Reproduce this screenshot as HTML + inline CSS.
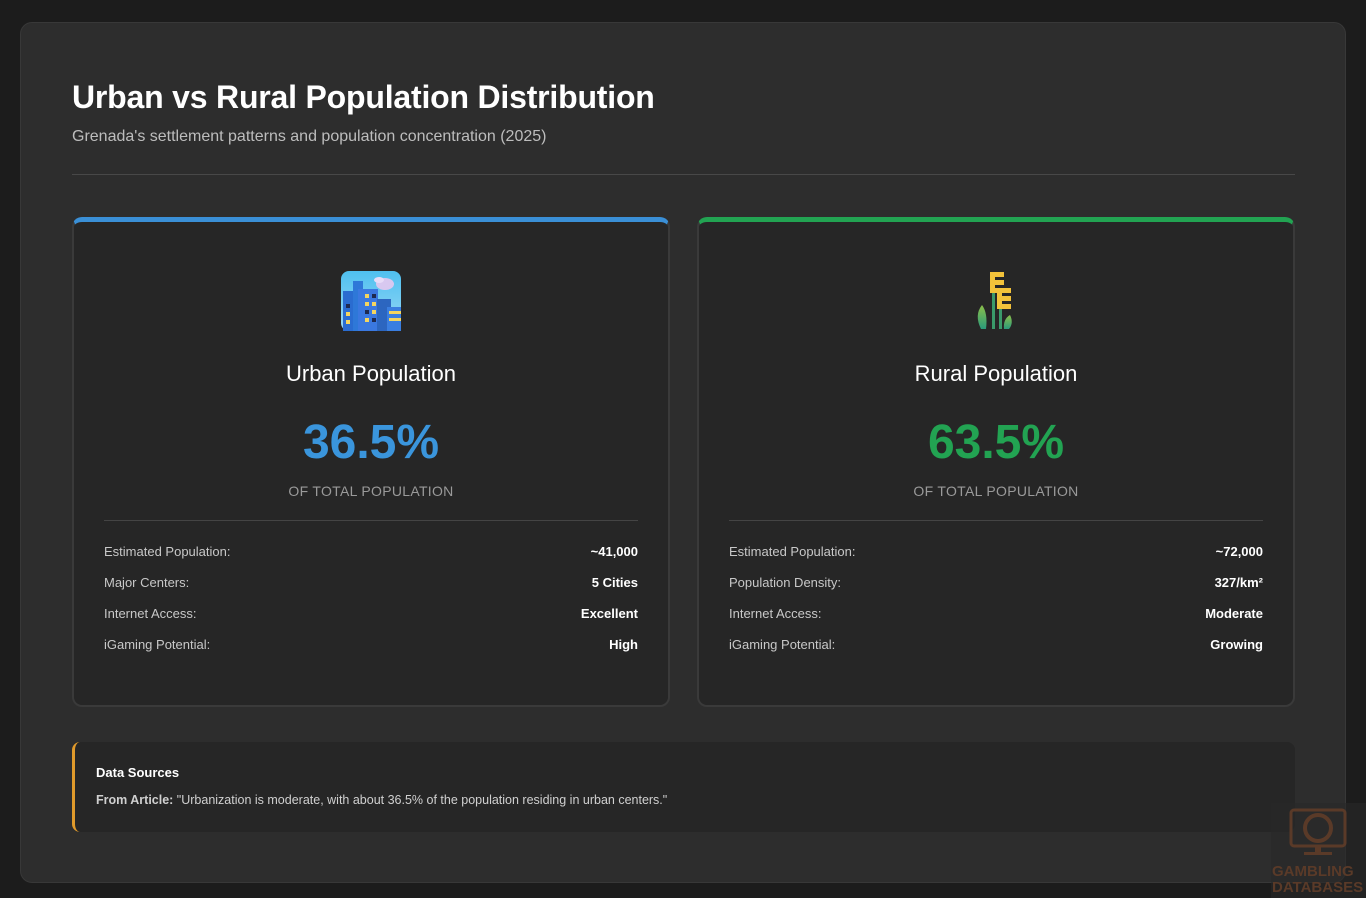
<!DOCTYPE html>
<html><head><meta charset="utf-8"><style>
*{box-sizing:border-box;margin:0;padding:0}
body{width:1366px;height:898px;background:#1c1c1c;font-family:"Liberation Sans","DejaVu Sans",sans-serif;position:relative;overflow:hidden;color:#fff}
.wrap{position:absolute;left:20px;top:22px;width:1326px;height:861px;background:#2d2d2d;border:1px solid #383838;border-radius:12px}
h1{position:absolute;left:51px;top:56px;font-size:32px;font-weight:bold;color:#fff;letter-spacing:-0.2px}
.sub{position:absolute;left:51px;top:105px;font-size:16px;color:#bdbdbd}
.hr{position:absolute;left:51px;top:151px;width:1223px;height:1px;background:#484848}
.card{position:absolute;top:194px;width:598px;height:490px;background:#262626;border:2px solid #3a3a3a;border-top:5px solid;border-radius:10px}
.card .icon{position:absolute;left:267px;top:49px;width:60px;height:60px}
.card h2{position:absolute;left:0;right:0;top:139px;text-align:center;font-size:22px;font-weight:normal;color:#fff}
.card .pct{position:absolute;left:0;right:0;top:193px;text-align:center;font-size:48px;font-weight:bold}
.card .lbl{position:absolute;left:0;right:0;top:261px;text-align:center;font-size:14px;color:#9a9a9a;letter-spacing:0.3px}
.card .div{position:absolute;left:30px;right:30px;top:298px;height:1px;background:#444}
.rows{position:absolute;left:30px;right:30px;top:322px}
.row{display:flex;justify-content:space-between;height:31px;font-size:13px;color:#c8c8c8}
.row b{color:#fff}
.src{position:absolute;left:51px;top:719px;width:1223px;height:90px;background:#262626;border-left:3px solid #e09a2b;border-radius:8px}
.src .t{position:absolute;left:21px;top:23px;font-size:13px;font-weight:bold;color:#fff}
.src .q{position:absolute;left:21px;top:51px;font-size:12.5px;color:#d0d0d0}
.src .q b{color:#d0d0d0}
</style></head><body>
<div class="wrap">
<h1>Urban vs Rural Population Distribution</h1>
<div class="sub">Grenada's settlement patterns and population concentration (2025)</div>
<div class="hr"></div>
<div class="card" style="left:51px;border-top-color:#3a8fd6">
<svg class="icon" viewBox="0 0 60 60"><defs><linearGradient id="sk" x1="0" y1="0" x2="0" y2="1"><stop offset="0" stop-color="#4fc0f0"/><stop offset="1" stop-color="#9ad8f5"/></linearGradient></defs>
<rect width="60" height="60" rx="8" fill="url(#sk)"/><ellipse cx="44" cy="13" rx="9" ry="6" fill="#d8c8f0"/><ellipse cx="38" cy="9" rx="5" ry="3" fill="#e8dcf8"/>
<rect x="2" y="20" width="14" height="40" fill="#2a6cd0"/><rect x="12" y="10" width="10" height="50" fill="#2e78d8"/><rect x="17" y="18" width="20" height="42" fill="#3a78e0"/><rect x="36" y="28" width="14" height="32" fill="#2c66c0"/><rect x="46" y="36" width="14" height="24" fill="#3a7ee0"/>
<g fill="#f4d560"><rect x="24" y="23" width="4" height="4"/><rect x="24" y="31" width="4" height="4"/><rect x="31" y="31" width="4" height="4"/><rect x="31" y="39" width="4" height="4"/><rect x="24" y="47" width="4" height="4"/><rect x="5" y="41" width="4" height="4"/><rect x="5" y="49" width="4" height="4"/><rect x="48" y="40" width="12" height="3"/><rect x="48" y="47" width="12" height="3"/></g>
<g fill="#1e2a50"><rect x="31" y="23" width="4" height="4"/><rect x="24" y="39" width="4" height="4"/><rect x="31" y="47" width="4" height="4"/><rect x="5" y="33" width="4" height="4"/></g></svg>
<h2>Urban Population</h2>
<div class="pct" style="color:#3a95dc">36.5%</div>
<div class="lbl">OF TOTAL POPULATION</div>
<div class="div"></div>
<div class="rows">
<div class="row"><span>Estimated Population:</span><b>~41,000</b></div>
<div class="row"><span>Major Centers:</span><b>5 Cities</b></div>
<div class="row"><span>Internet Access:</span><b>Excellent</b></div>
<div class="row"><span>iGaming Potential:</span><b>High</b></div>
</div></div>
<div class="card" style="left:676px;border-top-color:#22a352">
<svg class="icon" viewBox="0 0 60 60"><defs><linearGradient id="lf" x1="0" y1="0" x2="0" y2="1"><stop offset="0" stop-color="#8cc04a"/><stop offset="1" stop-color="#2a9a7a"/></linearGradient></defs>
<path d="M16 34 Q8 44 15 58 L20 58 Q22 42 16 34Z" fill="url(#lf)"/><path d="M44 44 Q48 52 43 58 L38 58 Q37 48 44 44Z" fill="url(#lf)"/>
<rect x="26" y="18" width="3" height="40" fill="#3a9a6a"/><rect x="33" y="34" width="3" height="24" fill="#3a9a6a"/>
<g fill="#f2c23a"><path d="M24 1h14v5H29v3h9v5H29v3h9v5H24z"/><path d="M31 17h14v5H36v3h9v5H36v3h9v5H31z"/></g></svg>
<h2>Rural Population</h2>
<div class="pct" style="color:#22a352">63.5%</div>
<div class="lbl">OF TOTAL POPULATION</div>
<div class="div"></div>
<div class="rows">
<div class="row"><span>Estimated Population:</span><b>~72,000</b></div>
<div class="row"><span>Population Density:</span><b>327/km²</b></div>
<div class="row"><span>Internet Access:</span><b>Moderate</b></div>
<div class="row"><span>iGaming Potential:</span><b>Growing</b></div>
</div></div>
<div class="src"><div class="t">Data Sources</div><div class="q"><b>From Article:</b> "Urbanization is moderate, with about 36.5% of the population residing in urban centers."</div></div>
</div>
<div style="position:absolute;left:1271px;top:803px;width:95px;height:95px;background:rgba(40,40,40,0.6)"></div>
<svg style="position:absolute;left:1288px;top:808px" width="60" height="52" viewBox="0 0 60 52"><rect x="3" y="2" width="54" height="36" rx="3" fill="none" stroke="#5a3a28" stroke-width="3"/><circle cx="30" cy="20" r="13" fill="none" stroke="#5a3a28" stroke-width="4"/><rect x="27" y="38" width="6" height="6" fill="#5a3a28"/><rect x="16" y="44" width="28" height="3" fill="#5a3a28"/></svg>
<div style="position:absolute;left:1272px;top:864px;font-size:15px;font-weight:bold;color:#5a3a28;line-height:16px">GAMBLING<br>DATABASES</div>
</body></html>
